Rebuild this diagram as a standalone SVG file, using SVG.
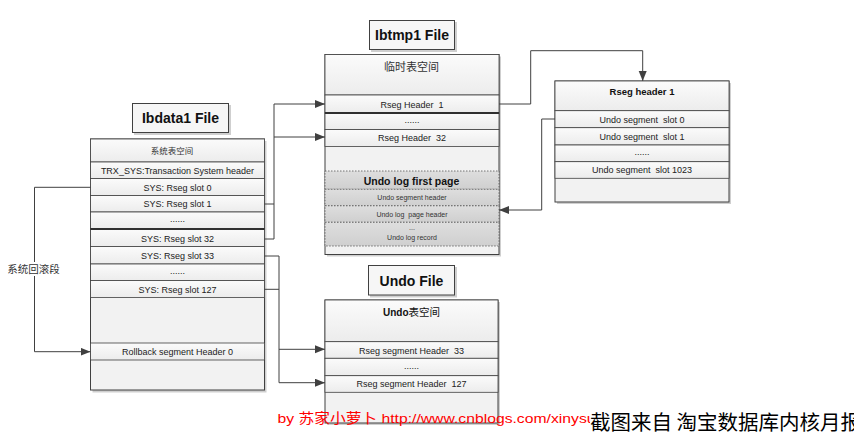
<svg xmlns="http://www.w3.org/2000/svg" width="854" height="438" viewBox="0 0 854 438">
<defs>
<linearGradient id="gRow" x1="0" y1="0" x2="0" y2="1"><stop offset="0" stop-color="#fbfbfb"/><stop offset="1" stop-color="#ececec"/></linearGradient>
<linearGradient id="gGrey" x1="0" y1="0" x2="0" y2="1"><stop offset="0" stop-color="#dedede"/><stop offset="1" stop-color="#cfcfcf"/></linearGradient>
<marker id="arr" markerUnits="userSpaceOnUse" markerWidth="12" markerHeight="10" refX="10" refY="4" orient="auto"><path d="M0,0 L10,4 L0,8 Z" fill="#404040"/></marker>
</defs>
<style>
.bg{fill:#ffffff}
.shadow{fill:#cfcfcf}
.box{fill:#f2f2f2;stroke:#404040;stroke-width:1}
.row{fill:url(#gRow);stroke:#404040;stroke-width:0.8}
.grey{fill:url(#gGrey);stroke:#555;stroke-width:0.8;stroke-dasharray:1.5,1.5}
.thick{stroke:#303030;stroke-width:2.2}
.title{fill:#f6f6f6;stroke:#404040;stroke-width:1}
.t{font-family:"Liberation Sans","Noto Sans CJK SC",sans-serif;font-size:9px;fill:#222;text-anchor:middle;white-space:pre}
.tb{font-family:"Liberation Sans","Noto Sans CJK SC",sans-serif;font-weight:bold;fill:#111;text-anchor:middle;white-space:pre}
.ts{font-family:"Liberation Sans",sans-serif;font-size:7px;fill:#333;text-anchor:middle;white-space:pre}
.cjk{font-family:"Noto Sans CJK SC",sans-serif;fill:#333;text-anchor:middle}
.conn{fill:none;stroke:#404040;stroke-width:1}
</style>
<rect class="bg" x="0" y="0" width="854" height="438"/>

<g id="ibdata1-title">
<rect class="shadow" x="134" y="105" width="97" height="30"/>
<rect class="title" x="132.5" y="103.5" width="96" height="29"/>
<text class="tb" x="180.5" y="123" font-size="14">Ibdata1 File</text>
</g>

<g id="ibdata1">
<rect class="shadow" x="92.5" y="141" width="174" height="251.5"/>
<rect class="box" x="90.5" y="139" width="174" height="251"/>
<rect class="row" x="90.5" y="139" width="174" height="23"/>
<rect class="row" x="90.5" y="162" width="174" height="16.5"/>
<rect class="row" x="90.5" y="178.5" width="174" height="17"/>
<rect class="row" x="90.5" y="195.5" width="174" height="16.5"/>
<rect class="row" x="90.5" y="212" width="174" height="17"/>
<rect class="row" x="90.5" y="229" width="174" height="17.5"/>
<rect class="row" x="90.5" y="246.5" width="174" height="17.5"/>
<rect class="row" x="90.5" y="264" width="174" height="16.5"/>
<rect class="row" x="90.5" y="280.5" width="174" height="17"/>
<rect class="row" x="90.5" y="343" width="174" height="17"/>
<line class="thick" x1="90.5" y1="229" x2="264.5" y2="229"/>
<text class="cjk" x="172" y="153.5" font-size="8.5">系统表空间</text>
<text class="t" x="177.5" y="173.5" font-size="9">TRX_SYS:Transaction System header</text>
<text class="t" x="177.5" y="190.5">SYS: Rseg slot 0</text>
<text class="t" x="177.5" y="207">SYS: Rseg slot 1</text>
<text class="t" x="177.5" y="222">......</text>
<text class="t" x="177.5" y="241.5">SYS: Rseg slot 32</text>
<text class="t" x="177.5" y="258.5">SYS: Rseg slot 33</text>
<text class="t" x="177.5" y="274">......</text>
<text class="t" x="177.5" y="292.5">SYS: Rseg slot 127</text>
<text class="t" x="177.5" y="355">Rollback segment Header 0</text>
</g>

<g id="ibtmp1-title">
<rect class="shadow" x="371" y="22" width="86" height="30"/>
<rect class="title" x="369.5" y="20.5" width="85" height="29"/>
<text class="tb" x="412" y="40" font-size="14">Ibtmp1 File</text>
</g>

<g id="ibtmp1">
<rect class="shadow" x="327" y="56.5" width="174" height="200"/>
<rect class="box" x="325" y="54.5" width="174" height="200"/>
<rect class="row" x="325" y="54.5" width="174" height="40.5"/>
<rect class="row" x="325" y="95" width="174" height="18"/>
<rect class="row" x="325" y="113" width="174" height="16.5"/>
<rect class="row" x="325" y="129.5" width="174" height="17"/>
<rect class="grey" x="325" y="171" width="174" height="18.3"/>
<rect class="grey" x="325" y="189.3" width="174" height="16.5"/>
<rect class="grey" x="325" y="205.8" width="174" height="16.5"/>
<rect class="grey" x="325" y="222.3" width="174" height="23.7"/>
<line class="thick" x1="325" y1="113" x2="499" y2="113"/>
<text class="cjk" x="411.5" y="71" font-size="11">临时表空间</text>
<text class="t" x="412" y="107.5">Rseg Header  1</text>
<text class="t" x="412" y="123">......</text>
<text class="t" x="412" y="141">Rseg Header  32</text>
<text class="tb" x="411.5" y="184.5" font-size="10.5">Undo log first page</text>
<text class="ts" x="412" y="200">Undo segment header</text>
<text class="ts" x="412" y="216.5">Undo log  page header</text>
<text class="ts" x="412" y="230">...</text>
<text class="ts" x="412" y="239.5">Undo log record</text>
</g>

<g id="rseg-header-1">
<rect class="shadow" x="557" y="83" width="174" height="121"/>
<rect class="box" x="555" y="81" width="174" height="121"/>
<rect class="row" x="555" y="81" width="174" height="29.7"/>
<rect class="row" x="555" y="110.7" width="174" height="17"/>
<rect class="row" x="555" y="127.7" width="174" height="17.3"/>
<rect class="row" x="555" y="145" width="174" height="16.7"/>
<rect class="row" x="555" y="161.7" width="174" height="16.6"/>
<text class="tb" x="642" y="95" font-size="9.5">Rseg header 1</text>
<text class="t" x="642" y="122.5">Undo segment  slot 0</text>
<text class="t" x="642" y="139.5">Undo segment  slot 1</text>
<text class="t" x="642" y="154.5">......</text>
<text class="t" x="642" y="173">Undo segment  slot 1023</text>
</g>

<g id="undo-title">
<rect class="shadow" x="370" y="267" width="87" height="30.5"/>
<rect class="title" x="368.5" y="265.5" width="86" height="29.5"/>
<text class="tb" x="411.5" y="285.5" font-size="14">Undo File</text>
</g>

<g id="undo">
<rect class="shadow" x="327" y="302" width="173" height="123"/>
<rect class="box" x="325" y="300" width="173" height="123"/>
<rect class="row" x="325" y="300" width="173" height="41.7"/>
<rect class="row" x="325" y="341.7" width="173" height="16.6"/>
<rect class="row" x="325" y="358.3" width="173" height="17.4"/>
<rect class="row" x="325" y="375.7" width="173" height="16.6"/>
<text class="tb" x="411.5" y="315.5" font-size="10">Undo<tspan font-weight="normal" font-family="Noto Sans CJK SC" font-size="10.5">表空间</tspan></text>
<text class="t" x="411.5" y="353.5">Rseg segment Header  33</text>
<text class="t" x="411.5" y="368.5">......</text>
<text class="t" x="411.5" y="387">Rseg segment Header  127</text>
</g>

<g id="connectors">
<path class="conn" d="M264.5,204 H274"/>
<path class="conn" d="M264.5,239 H274 V104 H325" marker-end="url(#arr)"/>
<path class="conn" d="M274,137 H325" marker-end="url(#arr)"/>
<path class="conn" d="M264.5,289.3 H279"/>
<path class="conn" d="M264.5,256 H279 V382.7 H325" marker-end="url(#arr)"/>
<path class="conn" d="M279,349.3 H325" marker-end="url(#arr)"/>
<path class="conn" d="M90.5,187.3 H34.5 V351.7 H90.5" marker-end="url(#arr)"/>
<path class="conn" d="M499,104 H530.7 V50.7 H642.7 V81" marker-end="url(#arr)"/>
<path class="conn" d="M555,119 H541.7 V210 H499" marker-end="url(#arr)"/>
<g id="label-rollback">
<rect x="6" y="262" width="56" height="14" fill="#ffffff"/>
<text class="cjk" x="33.5" y="273" font-size="10.5">系统回滚段</text>
</g>
</g>

<g id="credits">
<text x="277.5" y="423" font-family="Liberation Sans,Noto Sans CJK SC,sans-serif" font-size="13.5" fill="#ff0000" textLength="318" lengthAdjust="spacingAndGlyphs">by 苏家小萝卜 http://www.cnblogs.com/xinysu</text>
<rect x="590" y="405" width="264" height="33" fill="#ffffff"/>
<text x="590" y="430" font-family="Noto Sans CJK SC,sans-serif" font-size="20.5" fill="#000000">截图来自 淘宝数据库内核月报</text>
</g>
</svg>
